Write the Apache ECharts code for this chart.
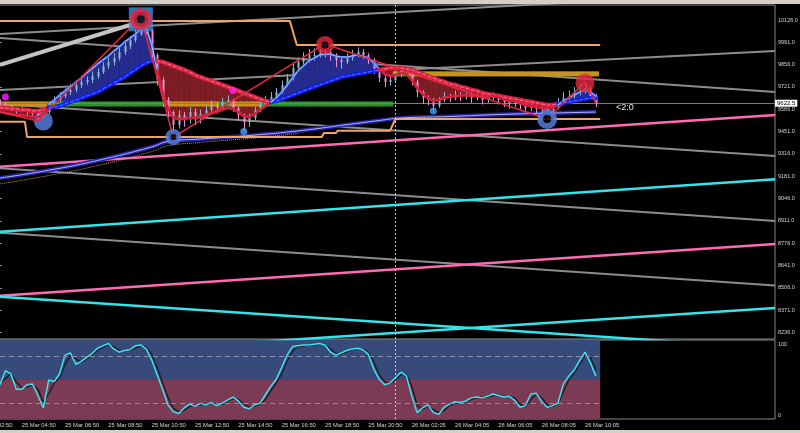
<!DOCTYPE html>
<html><head><meta charset="utf-8">
<script src="https://cdn.jsdelivr.net/npm/echarts@6/dist/echarts.min.js"></script>
<style>html,body{margin:0;padding:0;background:#000;overflow:hidden}#c{width:800px;height:433px}</style>
</head><body><div id="c"></div>
<script>
// ---------------- DATA ----------------
const priceTicks = [10126,9991,9856,9721,9586,9451,9316,9181,9046,8911,8776,8641,8506,8371,8236];
const timeTickIdx = [-4,4,12,20,28,36,44,52,60,68,76,84,92,100,108];
const timeTickLabels = ['25 Mar 02:50','25 Mar 04:50','25 Mar 06:50','25 Mar 08:50','25 Mar 10:50','25 Mar 12:50','25 Mar 14:50','25 Mar 16:50','25 Mar 18:50','25 Mar 20:50','26 Mar 02:05','26 Mar 04:05','26 Mar 06:05','26 Mar 08:05','26 Mar 10:05'];

const firstOpen = 9630;
const closes = [
 9624,9606,9594,9582,9588,9569,9557,9545,9569,9606,
 9642,9666,9690,9703,9733,9751,9763,9787,9811,9848,
 9872,9896,9932,9969,10005,10041,10090,10066,9914,9763,
 9642,9569,9491,9551,9533,9569,9545,9557,9582,9612,
 9594,9630,9642,9594,9551,9509,9533,9582,9612,9642,
 9660,9690,9733,9775,9836,9872,9896,9914,9914,9945,
 9932,9914,9884,9872,9896,9914,9932,9914,9884,9824,
 9775,9751,9763,9793,9824,9811,9751,9690,9654,9642,
 9606,9642,9666,9654,9672,9660,9678,9654,9672,9642,
 9654,9672,9642,9630,9618,9630,9612,9594,9606,9588,
 9582,9576,9594,9630,9654,9666,9690,9703,9715,9666,
 9622.5];
const highs = [
 9645,9630,9612,9600,9606,9594,9575,9565,9585,9624,
 9665,9690,9712,9740,9760,9790,9785,9815,9835,9870,
 9900,9925,9960,9990,10030,10070,10144,10138,10075,9925,
 9780,9660,9580,9580,9570,9600,9590,9585,9610,9640,
 9630,9655,9670,9650,9605,9560,9560,9600,9635,9665,
 9690,9715,9760,9800,9870,9900,9930,9950,9955,9970,
 9981,9950,9925,9900,9925,9945,9960,9950,9925,9895,
 9835,9790,9790,9815,9850,9840,9820,9765,9700,9670,
 9655,9660,9690,9680,9700,9690,9705,9690,9695,9685,
 9675,9690,9680,9655,9645,9650,9640,9625,9625,9615,
 9605,9600,9610,9655,9690,9700,9720,9740,9750,9725,
 9680];
const lows = [
 9600,9590,9575,9560,9570,9548,9530,9515,9536,9560,
 9598,9630,9655,9672,9690,9715,9735,9745,9770,9800,
 9830,9850,9880,9915,9950,9990,10030,10040,9890,9730,
 9600,9520,9418,9470,9480,9500,9490,9500,9530,9560,
 9560,9580,9610,9570,9520,9455,9480,9520,9570,9600,
 9625,9645,9680,9720,9760,9820,9850,9870,9880,9900,
 9900,9880,9840,9830,9860,9880,9900,9890,9860,9800,
 9750,9720,9730,9750,9780,9790,9730,9660,9620,9610,
 9575,9595,9630,9630,9640,9635,9645,9625,9640,9615,
 9625,9640,9615,9600,9590,9600,9585,9570,9575,9560,
 9555,9525,9560,9585,9620,9640,9650,9670,9680,9640,
 9600];
const fastMA = [
 9569,9563,9557,9551,9551,9545,9539,9539,9557,9618,
 9642,9672,9697,9721,9751,9775,9805,9830,9860,9884,
 9908,9938,9963,9993,10017,10041,10072,10078,9975,9824,
 9690,9594,9533,9527,9527,9533,9533,9539,9551,9563,
 9569,9582,9594,9588,9569,9545,9539,9557,9582,9606,
 9630,9654,9690,9733,9775,9818,9848,9878,9896,9914,
 9920,9920,9908,9902,9902,9908,9914,9908,9896,9866,
 9830,9799,9787,9793,9805,9799,9763,9715,9678,9654,
 9636,9642,9654,9660,9666,9666,9672,9666,9666,9660,
 9660,9666,9660,9648,9636,9636,9624,9612,9606,9600,
 9594,9588,9594,9612,9636,9654,9672,9690,9703,9690,
 9666];
const slowMA = [
 9594,9594,9588,9588,9582,9582,9576,9576,9582,9594,
 9600,9606,9618,9630,9642,9654,9666,9678,9690,9709,
 9727,9745,9763,9781,9805,9824,9848,9866,9878,9878,
 9872,9860,9848,9836,9824,9811,9793,9781,9769,9757,
 9745,9733,9721,9709,9697,9684,9672,9660,9648,9636,
 9630,9636,9648,9660,9672,9684,9697,9709,9721,9733,
 9745,9757,9769,9781,9787,9793,9799,9805,9811,9818,
 9824,9830,9836,9836,9836,9830,9824,9811,9799,9787,
 9775,9763,9751,9739,9733,9721,9715,9703,9697,9684,
 9678,9672,9666,9660,9654,9648,9642,9636,9630,9624,
 9618,9612,9612,9618,9624,9630,9636,9642,9648,9654,
 9654];
const oscMain = [
 44,62,58,38,38,44,45,30,14,50,
 48,58,82,85,70,74,79,84,91,94,
 97,90,86,88,89,94,95,90,76,57,
 38,18,9,7,14,19,16,20,18,21,
 17,20,24,28,23,15,13,18,20,31,
 42,51,66,82,93,94,95,95,96,97,
 95,86,82,85,88,90,91,89,83,64,
 51,44,46,53,60,56,30,8,14,18,
 8,6,15,19,22,21,23,27,28,27,
 29,32,30,28,29,24,15,17,32,33,
 22,15,17,20,45,55,63,75,86,72,
 55];
const oscSignal = [
 46,52,58,48,40,41,44,38,22,32,
 46,53,70,82,77,73,77,82,88,92,
 95,93,88,87,88,91,94,92,83,66,
 47,28,14,9,11,16,17,18,19,20,
 19,19,22,26,25,19,15,16,19,25,
 36,46,58,74,87,93,94,95,95,96,
 96,90,84,84,86,89,90,90,86,73,
 57,48,45,50,57,58,42,18,12,16,
 12,8,11,17,20,21,22,25,27,28,
 28,30,31,29,29,27,19,16,25,32,
 27,18,16,19,35,50,59,70,81,79,
 63];
const oscLevels = [80, 20];
const oscMid = 50;

const dayStart = [0, 73];
const dayLevel = [9618, 9800];
const lastPrice = 9622.5;

const zigzag = [[0,9570],[7,9515],[26,10144],[32,9418],[60,9981],[101,9527],[108,9750],[110,9622.5]];
const donchianUpper = [[0,10120],[53.5,10120],[54.8,9975],[110.8,9975]];
const donchianLower = [[0,9511],[4.6,9511],[5,9418],[59.4,9418],[59.8,9442],[62,9442],[62.3,9456],[72,9456],[73,9527],[110.8,9527]];
const envelope = [[0,9170],[9,9217],[18,9276],[28,9358],[31,9391],[37,9406],[46,9427],[55,9455],[65,9497],[70,9518],[74,9533],[83,9542],[92,9554],[102,9563],[110,9569]];
const envelopeLow = [[0,9135],[9,9185],[18,9245],[28,9330],[31,9365],[37,9385],[46,9410],[55,9440]];

const grayTrend = [
 [[0,9229],[143.1,8910]],
 [[0,8839],[143.1,8519]],
 [[0,9618],[143.1,9303]],
 [[0,10017],[143.1,9690]],
 [[0,9703],[143.1,9939]],
 [[0,10041],[143.1,10300]]
];
const grayThickTrend = [[0,9854],[25.8,10114]];
const pinkTrend = [
 [[0,8458],[143.1,8771]],
 [[0,9238],[143.1,9551]]
];
const cyanTrend = [
 [[0,8845],[143.1,9162]],
 [[0,8452],[143.1,8140]],
 [[0,8076],[143.1,8384]]
];

const peakSquare = [[26,10130]];
const peakRings = [[26,10130],[60,9975]];
const troughRings = [[32,9418],[101,9527]];
const troughSolid = [[8,9515]];
const smallLowDots = [[45,9452],[80,9575]];
const lastHighDot = [[108,9745]];
const magentaDots = [[1,9660],[43,9700]];

// ---------------- CHART ----------------
const N = closes.length, lastIdx = N - 1;
const opens = closes.map((c, i) => i === 0 ? firstOpen : closes[i - 1]);
const X_MIN = -4, X_MAX = 143.07;
const Y_MIN = 8196.05, Y_MAX = 10216.75;
const OSC_MIN = -0.2, OSC_MAX = 101.5;
const bandEnd = lastIdx + 0.8;

const C = {
  up: '#8db6cf', down: '#ee8ed6',
  bandUp: '#262b8e', bandDown: '#7c1e24',
  fastUp: '#3c6cff', slowUp: '#0c1cff', redLine: '#d81f3e', redCore: '#ff7a96',
  green: '#2f8f2f', gold: '#c8921e', orange: '#eea468',
  gray: '#8c8c8c', lightGray: '#c4c4c4', pink: '#ff6ab4', cyan: '#34e4ec',
  axisText: '#d4d4d4', frame: '#8a8a8a'
};

function candleRender(params, api) {
  const i = params.dataIndex;
  const pH = api.coord([i, highs[i]]), pL = api.coord([i, lows[i]]);
  const pO = api.coord([i, opens[i]]), pC = api.coord([i, closes[i]]);
  const col = closes[i] >= opens[i] ? C.up : C.down;
  const x = Math.round(pH[0]) + 0.5;
  return {type: 'group', children: [
    {type: 'line', shape: {x1: x, y1: pH[1], x2: x, y2: pL[1]}, style: {stroke: col, lineWidth: 1}},
    {type: 'rect', shape: {x: x - 1, y: Math.min(pO[1], pC[1]), width: 2, height: Math.max(1, Math.abs(pO[1] - pC[1]))}, style: {fill: col}}
  ]};
}

function ribbonRender(params, api) {
  const i = params.dataIndex;
  if (i >= N - 1) return;
  const f0 = fastMA[i], f1 = fastMA[i + 1], s0 = slowMA[i], s1 = slowMA[i + 1];
  const d0 = f0 - s0, d1 = f1 - s1;
  const P = (x, y) => api.coord([x, y]);
  const polys = [];
  if (d0 * d1 < 0) {
    const t = d0 / (d0 - d1), xm = i + t, ym = f0 + (f1 - f0) * t;
    polys.push({pts: [P(i, f0), P(xm, ym), P(i, s0)], up: d0 > 0});
    polys.push({pts: [P(xm, ym), P(i + 1, f1), P(i + 1, s1)], up: d1 > 0});
  } else {
    polys.push({pts: [P(i, f0), P(i + 1, f1), P(i + 1, s1), P(i, s0)], up: (d0 + d1) >= 0});
  }
  return {type: 'group', children: polys.map(p => ({type: 'polygon', shape: {points: p.pts},
    style: {fill: p.up ? C.bandUp : C.bandDown, stroke: p.up ? C.bandUp : C.bandDown, lineWidth: 0.6}}))};
}

function maRender(params, api) {
  const i = params.dataIndex;
  if (i >= N - 1) return;
  const up = (fastMA[i] - slowMA[i]) + (fastMA[i + 1] - slowMA[i + 1]) >= 0;
  const s0 = api.coord([i, slowMA[i]]), s1 = api.coord([i + 1, slowMA[i + 1]]);
  const f0 = api.coord([i, fastMA[i]]), f1 = api.coord([i + 1, fastMA[i + 1]]);
  const L = (a, b, col, w) => ({type: 'line', shape: {x1: a[0], y1: a[1], x2: b[0], y2: b[1]}, style: {stroke: col, lineWidth: w, lineCap: 'round'}});
  const ch = [];
  if (up) {
    ch.push(L(s0, s1, C.slowUp, 4));
    ch.push(L(s0, s1, '#5a78ff', 1));
    ch.push(L(f0, f1, C.fastUp, 2.2));
    ch.push(L(f0, f1, '#e8ecff', 0.7));
  } else {
    ch.push(L(s0, s1, C.redLine, 4.5));
    ch.push(L(s0, s1, C.redCore, 1));
    ch.push(L(f0, f1, C.redLine, 2.5));
  }
  return {type: 'group', children: ch};
}

function levelRender(params, api) {
  const i = params.dataIndex;
  const d = i >= dayStart[1] ? 1 : 0;
  const lv = dayLevel[d];
  const a = api.coord([Math.max(i - 0.6, dayStart[d] - 0.5), lv]);
  const b = api.coord([i + 0.6, lv]);
  return {type: 'rect', shape: {x: a[0], y: a[1] - 2.5, width: b[0] - a[0], height: 5},
    style: {fill: closes[i] >= lv ? C.green : C.gold}};
}

function lineSeries(pts, color, width, z, extra) {
  return Object.assign({type: 'line', xAxisIndex: 0, yAxisIndex: 0, data: pts, symbol: 'none', showSymbol: false,
    silent: true, clip: true, z: z, lineStyle: {color: color, width: width}}, extra || {});
}

const idxData = closes.map((c, i) => [i, c]);
const series = [];
grayTrend.forEach(t => series.push(lineSeries(t, C.gray, 2, 1)));
series.push(lineSeries(grayThickTrend, C.lightGray, 4, 1));
pinkTrend.forEach(t => series.push(lineSeries(t, C.pink, 2.5, 1)));
cyanTrend.forEach(t => series.push(lineSeries(t, C.cyan, 2.5, 1)));
series.push(lineSeries(envelopeLow, '#c89070', 1, 2, {smooth: true, lineStyle: {color: '#c89070', width: 1, type: 'dotted'}}));
series.push(lineSeries(envelope, '#2424a6', 4, 2, {smooth: true}));
series.push(lineSeries(envelope, '#b4b4ff', 1, 2, {smooth: true}));
series.push(lineSeries(donchianUpper, C.orange, 2, 2));
series.push(lineSeries(donchianLower, C.orange, 2, 2));
series.push({type: 'custom', xAxisIndex: 0, yAxisIndex: 0, data: idxData, encode: {x: 0, y: 1}, renderItem: ribbonRender, clip: true, silent: true, z: 3});
series.push({type: 'custom', xAxisIndex: 0, yAxisIndex: 0, data: idxData, encode: {x: 0, y: 1}, renderItem: levelRender, clip: true, silent: true, z: 4});
series.push({type: 'custom', xAxisIndex: 0, yAxisIndex: 0, data: idxData, encode: {x: 0, y: 1}, renderItem: candleRender, clip: true, silent: true, z: 5});
series.push({type: 'custom', xAxisIndex: 0, yAxisIndex: 0, data: idxData, encode: {x: 0, y: 1}, renderItem: maRender, clip: true, silent: true, z: 6});
series.push(lineSeries(zigzag, '#e8283c', 1.5, 7, {
  markLine: {symbol: 'none', silent: true, animation: false,
    data: [
      {yAxis: lastPrice, lineStyle: {color: '#7c7c7c', width: 1, type: 'solid'},
       label: {show: true, position: 'end', formatter: lastPrice.toFixed(1), backgroundColor: '#ffffff', color: '#000',
         fontSize: 6, fontFamily: 'Liberation Sans', padding: [1, 2, 0, 2], distance: 0}},
      {xAxis: dayStart[1], lineStyle: {color: '#c8c8c8', width: 1, type: [2, 2]}, label: {show: false}}
    ]}
}));
const sc = (data, extra) => Object.assign({type: 'scatter', xAxisIndex: 0, yAxisIndex: 0, data: data, silent: true}, extra);
series.push(sc(peakSquare, {symbol: 'rect', symbolSize: 24, itemStyle: {color: '#3b8de4'}, z: 8}));
series.push(sc(peakRings.map((v, k) => ({value: v, symbolSize: k === 0 ? 15 : 12.5, itemStyle: {borderWidth: k === 0 ? 7 : 5.5}})),
  {symbol: 'circle', itemStyle: {color: '#000', borderColor: '#e4283e'}, z: 9}));
series.push(sc(troughRings.map((v, k) => ({value: v, symbolSize: k === 0 ? 11 : 14, itemStyle: {borderWidth: k === 0 ? 5 : 6}})),
  {symbol: 'circle', itemStyle: {color: '#000', borderColor: '#5a82e6'}, z: 9}));
series.push(sc(troughSolid, {symbol: 'circle', symbolSize: 19, itemStyle: {color: '#5a82e6'}, z: 4}));
series.push(sc(smallLowDots, {symbol: 'circle', symbolSize: 7, itemStyle: {color: '#3fa4ff'}, z: 9}));
series.push(sc(lastHighDot, {symbol: 'circle', symbolSize: 19, itemStyle: {color: '#e4283e'}, z: 9}));
series.push(sc(magentaDots, {symbol: 'circle', symbolSize: 7, itemStyle: {color: '#ff22ff'}, z: 9}));

// oscillator
series.push({type: 'line', xAxisIndex: 1, yAxisIndex: 1, data: oscSignal.map((v, i) => [i, v]), symbol: 'none', silent: true,
  lineStyle: {color: '#15151c', width: 1.2}, z: 3,
  markArea: {silent: true, data: [
    [{xAxis: 0, yAxis: oscMid, itemStyle: {color: '#364b7a'}}, {xAxis: bandEnd, yAxis: OSC_MAX}],
    [{xAxis: 0, yAxis: OSC_MIN, itemStyle: {color: '#7b3b55'}}, {xAxis: bandEnd, yAxis: oscMid}]
  ]},
  markLine: {symbol: 'none', silent: true, label: {show: false},
    lineStyle: {color: '#8e8ea4', width: 1, type: [5, 4]},
    data: oscLevels.map(l => [{coord: [0, l]}, {coord: [bandEnd, l]}]).concat([
      [{coord: [dayStart[1], OSC_MIN]}, {coord: [dayStart[1], OSC_MAX], lineStyle: {color: '#c8c8c8', type: [2, 2]}}]
    ])}
});
series.push({type: 'line', xAxisIndex: 1, yAxisIndex: 1, data: oscMain.map((v, i) => [i, v]), symbol: 'none', silent: true,
  lineStyle: {color: '#3ee2f0', width: 1.5}, z: 4});

const gridBase = {left: -21.67, right: 25, show: true, borderColor: C.frame, borderWidth: 1, backgroundColor: 'transparent',
  containLabel: false, outerBoundsMode: 'none'};
const option = {
  animation: false,
  backgroundColor: '#000',
  textStyle: {fontFamily: 'Liberation Sans'},
  grid: [Object.assign({top: 5, height: 334}, gridBase), Object.assign({top: 340, height: 79}, gridBase)],
  xAxis: [
    {type: 'value', gridIndex: 0, min: X_MIN, max: X_MAX, axisLine: {show: false}, axisTick: {show: false}, axisLabel: {show: false}, splitLine: {show: false}},
    {type: 'value', gridIndex: 1, min: X_MIN, max: X_MAX, axisLine: {show: false}, axisTick: {show: false}, splitLine: {show: false},
     axisLabel: {customValues: timeTickIdx, formatter: v => timeTickLabels[timeTickIdx.indexOf(v)], align: 'left',
       color: C.axisText, fontSize: 5.8, margin: 3, fontFamily: 'Liberation Sans'}}
  ],
  yAxis: [
    {type: 'value', gridIndex: 0, position: 'right', min: Y_MIN, max: Y_MAX, splitLine: {show: false},
     axisLine: {show: false}, axisTick: {show: true, length: 2, customValues: priceTicks, lineStyle: {color: C.frame}},
     axisLabel: {customValues: priceTicks, formatter: v => v.toFixed(1), color: C.axisText, fontSize: 5.5, margin: 3, fontFamily: 'Liberation Sans'}},
    {type: 'value', gridIndex: 1, position: 'right', min: OSC_MIN, max: OSC_MAX, splitLine: {show: false},
     axisLine: {show: false}, axisTick: {show: false},
     axisLabel: {customValues: [0, 100], color: C.axisText, fontSize: 5.5, margin: 3, fontFamily: 'Liberation Sans',
       formatter: v => v === 100 ? '{t|100}' : '{b|0}',
       rich: {t: {padding: [6, 0, 0, 0], fontSize: 5.5, color: C.axisText}, b: {padding: [0, 0, 7, 0], fontSize: 5.5, color: C.axisText}}}}
  ],
  graphic: [
    {type: 'rect', left: 0, top: 0, shape: {width: 800, height: 4}, style: {fill: '#d4d0c8'}, silent: true},
    {type: 'rect', left: 0, top: 430, shape: {width: 800, height: 3}, style: {fill: '#d4d0c8'}, silent: true},
    {type: 'text', left: 616, top: 103, style: {text: '<2:0', fill: '#e6e6e6', font: '9px Liberation Sans'}, silent: true}
  ],
  series: series
};
const chart = echarts.init(document.getElementById('c'), null, {width: 800, height: 433});
chart.setOption(option);
</script>
</body></html>
